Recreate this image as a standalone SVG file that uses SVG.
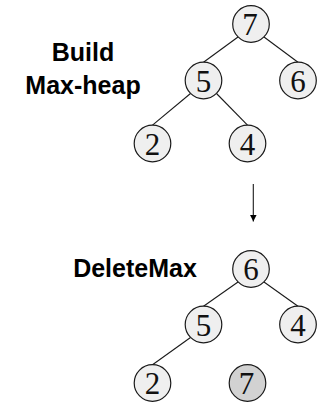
<svg xmlns="http://www.w3.org/2000/svg" width="323" height="403" viewBox="0 0 323 403">
  <style>
    .node circle { fill: #efefef; stroke: #1a1a1a; stroke-width: 1.2; }
    .node.removed circle { fill: #d2d2d2; }
    .node text { font-family: "Liberation Serif", "Times New Roman", serif; font-size: 31px; text-anchor: middle; fill: #111; }
    .label { font-family: "Liberation Sans", Arial, sans-serif; font-weight: bold; font-size: 25px; text-anchor: middle; fill: #000; }
    .edges line { stroke: #1a1a1a; stroke-width: 1.1; }
    .arrow { stroke: #000; stroke-width: 1.5; }
  </style>
  <defs>
    <marker id="head" viewBox="0 0 10 10" refX="10" refY="5" markerWidth="7" markerHeight="7" markerUnits="userSpaceOnUse" orient="auto">
      <path d="M0,0 L10,5 L0,10 z" fill="#000"/>
    </marker>
  </defs>

  <!-- labels -->
  <text class="label" x="83" y="61">Build</text>
  <text class="label" x="83" y="94">Max-heap</text>
  <text class="label" x="135" y="277">DeleteMax</text>

  <!-- connectors -->
  <g class="edges" id="connectors">
    <line x1="238" y1="37" x2="203.5" y2="62.2"/>
    <line x1="264" y1="37" x2="298" y2="62.2"/>
    <line x1="190.5" y1="93.5" x2="152.5" y2="125.2"/>
    <line x1="216.5" y1="93.5" x2="247.5" y2="125.2"/>
    <line class="arrow" x1="253.3" y1="184" x2="253.3" y2="221.5" marker-end="url(#head)"/>
    <line x1="238" y1="282" x2="203.5" y2="306.2"/>
    <line x1="264" y1="282" x2="298" y2="306.2"/>
    <line x1="190.5" y1="337.5" x2="152.5" y2="364.7"/>
  </g>

  <!-- max-heap after build -->
  <g class="node" id="a7"><circle cx="251" cy="24" r="18.3"/><text x="250" y="35">7</text></g>
  <g class="node" id="a5"><circle cx="203.5" cy="80.5" r="18.3"/><text x="203.5" y="91.5">5</text></g>
  <g class="node" id="a6"><circle cx="298" cy="80.5" r="18.3"/><text x="298" y="91.5">6</text></g>
  <g class="node" id="a2"><circle cx="152.5" cy="143.5" r="18.3"/><text x="152.5" y="154.5">2</text></g>
  <g class="node" id="a4"><circle cx="247.5" cy="143.5" r="18.3"/><text x="247.5" y="154.5">4</text></g>

  <!-- heap after delete-max -->
  <g class="node" id="b6"><circle cx="251" cy="269" r="18.3"/><text x="251" y="280">6</text></g>
  <g class="node" id="b5"><circle cx="203.5" cy="324.5" r="18.3"/><text x="203.5" y="335.5">5</text></g>
  <g class="node" id="b4"><circle cx="298" cy="324.5" r="18.3"/><text x="298" y="335.5">4</text></g>
  <g class="node" id="b2"><circle cx="152.5" cy="383" r="18.3"/><text x="152.5" y="394">2</text></g>
  <g class="node removed" id="b7"><circle cx="247.5" cy="383" r="18.3"/><text x="246.5" y="394">7</text></g>
</svg>
